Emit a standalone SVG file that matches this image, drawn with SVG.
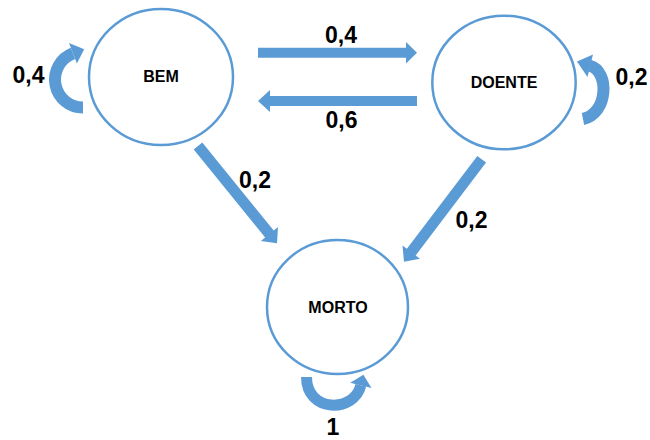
<svg xmlns="http://www.w3.org/2000/svg" width="650" height="440" viewBox="0 0 650 440">
<style>
.node{fill:#fff;stroke:#5B9BD5;stroke-width:2.5}
.lbl{font-family:"Liberation Sans",Arial,sans-serif;font-weight:bold;font-size:16px;fill:#000;text-anchor:middle}
.num{font-family:"Liberation Sans",Arial,sans-serif;font-weight:bold;font-size:23px;fill:#000;text-anchor:middle}
.arr{fill:#5B9BD5;stroke:none}
.loop{fill:none;stroke:#5B9BD5;stroke-linecap:butt}
</style>
<rect width="650" height="440" fill="#fff"/>
<g id="BEM">
<ellipse class="node" cx="161" cy="77" rx="72" ry="68"/>
<text class="lbl" x="161" y="82">BEM</text>
</g>
<g id="DOENTE">
<ellipse class="node" cx="504" cy="82.5" rx="71.7" ry="66.8"/>
<text class="lbl" x="504" y="88.3">DOENTE</text>
</g>
<g id="MORTO">
<ellipse class="node" cx="337.5" cy="307" rx="70.5" ry="67"/>
<text class="lbl" x="338" y="313">MORTO</text>
</g>
<g id="connectors">
<polygon class="arr" points="258,47.8 406,47.8 406,42 417,52.8 406,63.5 406,57.8 258,57.8"/>
<polygon class="arr" points="417,96 270,96 270,90 258,101 270,112 270,106 417,106"/>
<polygon class="arr" points="202.28,142.54 273.73,230.5 278.01,227.04 277,243.3 260.89,240.88 265.17,237.42 193.72,149.46"/>
<polygon class="arr" points="486.08,162.52 415.63,255.46 420.02,258.78 404,261.7 402.48,245.5 406.87,248.82 477.32,155.88"/>
<path class="loop" stroke-width="12" d="M83,107.5 A28,28 0 0 1 72.97,53.36"/>
<polygon class="arr" points="69,43.1 84.2,49.3 76.9,63.6"/>
<path class="loop" stroke-width="12" d="M583,119 C608,114 610,71 589.75,65.75"/>
<polygon class="arr" points="593,54.5 577,61.5 587.5,77"/>
<path class="loop" stroke-width="11" d="M306.5,377 C306.5,413 354.3,413 360.85,385.35"/>
<polygon class="arr" points="350.2,382.8 363.4,374.7 371.5,387.9"/>
</g>
<g id="labels">
<text class="num" x="341" y="43.3">0,4</text>
<text class="num" x="341.5" y="128.3">0,6</text>
<text class="num" x="28.5" y="83.3">0,4</text>
<text class="num" x="631.5" y="85">0,2</text>
<text class="num" x="255" y="188.3">0,2</text>
<text class="num" x="471.5" y="228.3">0,2</text>
<text class="num" x="333" y="435">1</text>
</g>
</svg>
